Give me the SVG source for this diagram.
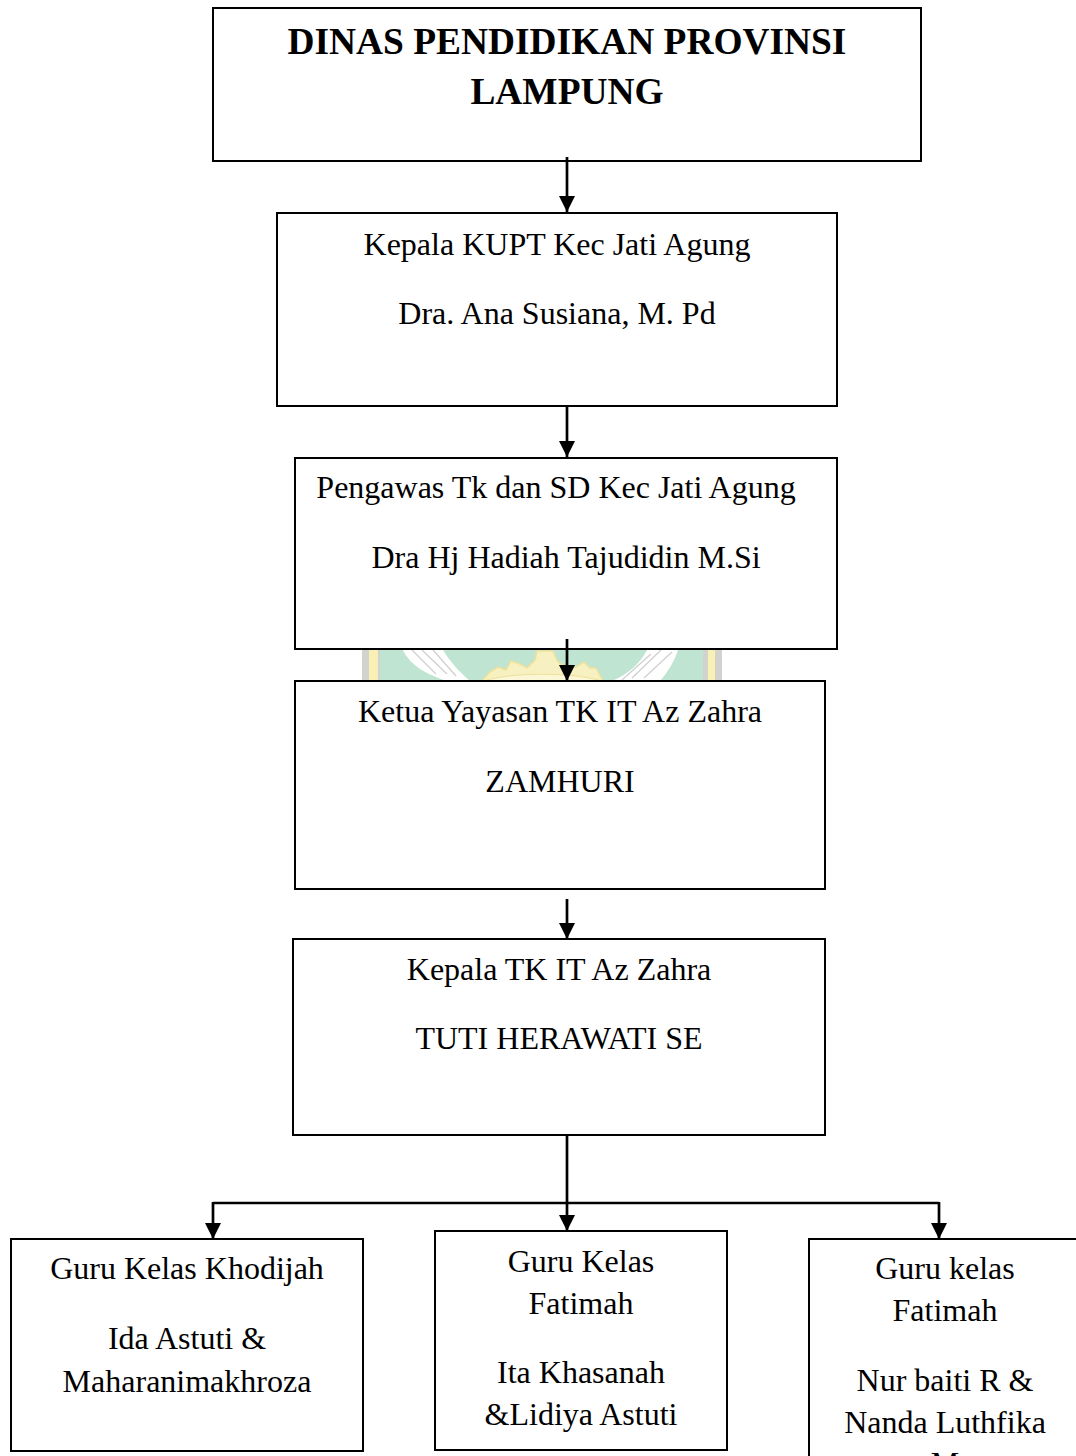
<svg xmlns="http://www.w3.org/2000/svg" width="1076" height="1456" viewBox="0 0 1076 1456">
<defs>
<marker id="arr" markerUnits="userSpaceOnUse" markerWidth="20" markerHeight="20" refX="16" refY="10" orient="auto"><path d="M0,2 L16,10 L0,18 Z" fill="#000"/></marker>
</defs>
<style>
.box{fill:none;stroke:#000;stroke-width:2}
.t{font-family:"Liberation Serif","Times New Roman",serif;font-size:32px;fill:#000}
.b{font-weight:bold;font-size:37.4px}
.c{text-anchor:middle}
.l{fill:none;stroke:#000;stroke-width:2.700}
.v{fill:none;stroke:#cfcfcf;stroke-width:1.200}
</style>
<rect width="1076" height="1456" fill="#fff"/>
<g id="watermark">
<rect x="362" y="650" width="360" height="31" fill="#d2d2ce"/>
<rect x="369" y="650" width="346" height="31" fill="#f8f0b5"/>
<rect x="378" y="650" width="330" height="31" fill="#d2d2ce"/>
<rect x="380" y="650" width="323" height="31" fill="#bfe5d2"/>
<path d="M403,650 C410,666 430,676 448,681 L470,681 C458,671 449,660 443,650 Z" fill="#fff"/>
<path d="M412,650 L436,674 M422,650 L447,674 M433,650 L456,676" class="v"/>
<path d="M647,650 C640,664 628,674 612,681 L660,681 C668,672 675,660 678,650 Z" fill="#fff"/>
<path d="M672,652 L644,678 M661,650 L632,678 M651,654 L622,680" class="v"/>
<path d="M482,681 L490,672 L498,667 L506,670 L511,661 L520,664 L527,668 L535,660 L537,651 L553,651 L558,662 L568,668 L576,667 L584,662 L590,668 L596,668 L603,681 Z" fill="#f7f0c0" stroke="#efe19a" stroke-width="1.500"/>
<path d="M484,681 C510,672 575,672 601,681 Z" fill="#fbf6d6" stroke="#efe19a"/>
</g>
<g id="connectors">
<line class="l" x1="567" y1="157" x2="567" y2="212" marker-end="url(#arr)"/>
<line class="l" x1="567" y1="406" x2="567" y2="457" marker-end="url(#arr)"/>
<line class="l" x1="567" y1="639" x2="567" y2="681" marker-end="url(#arr)"/>
<line class="l" x1="567" y1="899" x2="567" y2="939" marker-end="url(#arr)"/>
<line class="l" x1="567" y1="1135" x2="567" y2="1231" marker-end="url(#arr)"/>
<line class="l" x1="213" y1="1203" x2="939" y2="1203"/>
<line class="l" x1="213" y1="1202" x2="213" y2="1239" marker-end="url(#arr)"/>
<line class="l" x1="939" y1="1202" x2="939" y2="1239" marker-end="url(#arr)"/>
</g>
<g id="node-dinas">
<rect class="box" x="213" y="8" width="708" height="153"/>
<text class="t b c" x="567" y="54">DINAS PENDIDIKAN PROVINSI</text>
<text class="t b c" x="567" y="104">LAMPUNG</text>
</g>
<g id="node-kupt">
<rect class="box" x="277" y="213" width="560" height="193"/>
<text class="t c" x="557" y="255">Kepala KUPT Kec Jati Agung</text>
<text class="t c" x="557" y="324">Dra. Ana Susiana, M. Pd</text>
</g>
<g id="node-pengawas">
<rect class="box" x="295" y="458" width="542" height="191"/>
<text class="t c" x="556" y="498">Pengawas Tk dan SD Kec Jati Agung</text>
<text class="t c" x="566" y="568">Dra Hj Hadiah Tajudidin M.Si</text>
</g>
<g id="node-ketua">
<rect class="box" x="295" y="681" width="530" height="208"/>
<text class="t c" x="560" y="722">Ketua Yayasan TK IT Az Zahra</text>
<text class="t c" x="560" y="792">ZAMHURI</text>
</g>
<g id="node-kepala">
<rect class="box" x="293" y="939" width="532" height="196"/>
<text class="t c" x="559" y="980">Kepala TK IT Az Zahra</text>
<text class="t c" x="559" y="1049">TUTI HERAWATI SE</text>
</g>
<g id="node-khodijah">
<rect class="box" x="11" y="1239" width="352" height="212"/>
<text class="t c" x="187" y="1279">Guru Kelas Khodijah</text>
<text class="t c" x="187" y="1349">Ida Astuti &amp;</text>
<text class="t c" x="187" y="1392">Maharanimakhroza</text>
</g>
<g id="node-fatimah1">
<rect class="box" x="435" y="1231" width="292" height="219"/>
<text class="t c" x="581" y="1272">Guru Kelas</text>
<text class="t c" x="581" y="1314">Fatimah</text>
<text class="t c" x="581" y="1383">Ita Khasanah</text>
<text class="t c" x="581" y="1425">&amp;Lidiya Astuti</text>
</g>
<g id="node-fatimah2">
<path class="box" d="M1076,1239 L809,1239 L809,1456"/>
<text class="t c" x="945" y="1279">Guru kelas</text>
<text class="t c" x="945" y="1321">Fatimah</text>
<text class="t c" x="945" y="1391">Nur baiti R &amp;</text>
<text class="t c" x="945" y="1433">Nanda Luthfika</text>
<text class="t c" x="945" y="1474">M</text>
</g>
</svg>
